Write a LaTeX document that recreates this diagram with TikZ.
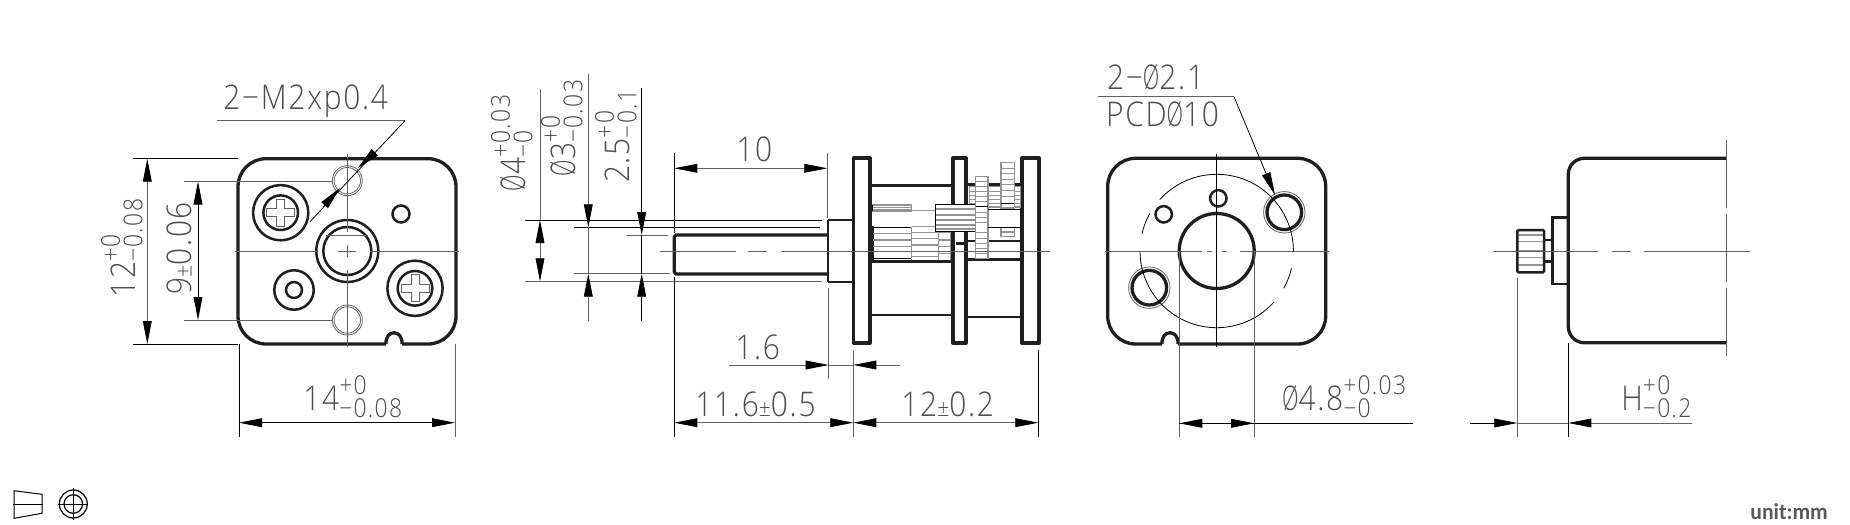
\documentclass[tikz,border=0pt]{standalone}
\usepackage{fontspec}
\usepackage{graphicx}
\usetikzlibrary{arrows.meta}
\newfontfamily\dimfont{Open Sans Light}[LetterSpace=5,FakeStretch=0.88]
\newfontfamily\unitfont{Carlito Bold}[FakeStretch=0.95]
\definecolor{ink}{gray}{0.12}
\definecolor{thin}{gray}{0.38}
\definecolor{txt}{gray}{0.30}
\newcommand{\dia}{\scalebox{.72}[1]{Ø}}
\newcommand{\pmm}{{\fontsize{12}{12}\selectfont ±}}
\newcommand{\tol}[2]{{\fontsize{13}{13}\selectfont\rlap{\raisebox{7.6pt}{#1}}\raisebox{-3.7pt}{#2}}}
\newcommand{\hatchx}[4]{\foreach \yy in {#3}{\draw[#4] (#1,\yy) -- (#2,\yy);}}
\tikzset{
  x=0.5pt,y=-0.5pt,
  outl/.style={draw=ink,line width=1.65pt,line join=round},
  midl/.style={draw=ink,line width=1.25pt},
  thinl/.style={draw=thin,line width=0.4pt},
  blackl/.style={draw=black,line width=0.4pt},
  gearl/.style={draw=gray!85,line width=0.75pt},
  hairl/.style={draw=black,line width=0.5pt},
  dimtip/.tip={Triangle[length=11.5pt,width=4.4pt,color=black]},
  lab/.style={inner sep=0pt,anchor=base west,text=txt,font=\fontsize{17}{17}\selectfont\dimfont},
}
\begin{document}
\begin{tikzpicture}
\useasboundingbox (0,0) rectangle (1850,524);
\fill[white] (0,0) rectangle (1850,524);

% ===== VIEW 1 =====
\draw[outl,rounded corners=14pt] (347,158.7) -- (456,158.7) -- (456,344) -- (402,344);
\draw[outl] (402,344) .. controls (403,329) and (385,329) .. (386,344);
\draw[outl,rounded corners=14pt] (386,344) -- (238,344) -- (238,158.7) -- (347,158.7);
% holes
\draw[thinl] (347.3,180.7) circle[radius=15] (347.3,180.7) circle[radius=13.2];
\draw[thinl] (347.3,320) circle[radius=15] (347.3,320) circle[radius=13.2];
% screws
\foreach \cx/\cy in {280.7/212.7,415/288.3}{
  \draw[midl] (\cx,\cy) circle[radius=27.6];
  \draw[midl] (\cx,\cy) circle[radius=17.3];
  \draw[thinl] (\cx-4,\cy-13.5) -- (\cx+4,\cy-13.5) -- (\cx+4,\cy-4) -- (\cx+14,\cy-4) -- (\cx+14,\cy+4) -- (\cx+4,\cy+4) -- (\cx+4,\cy+13.5) -- (\cx-4,\cy+13.5) -- (\cx-4,\cy+4) -- (\cx-14,\cy+4) -- (\cx-14,\cy-4) -- (\cx-4,\cy-4) -- cycle;
}
% boss
\draw[midl] (347.3,251) circle[radius=31];
\draw[midl] (347.3,251) circle[radius=24];
\draw[thinl] (326,235) -- (368,235);
\draw[midl] (401,214) circle[radius=8.5];
\draw[midl] (294,290) circle[radius=19.7];
\draw[midl] (294,290) circle[radius=8];
% centre lines
\draw[thinl] (235,251) -- (317,251) (338,251) -- (356,251) (370,251) -- (459,251);
\draw[thinl] (347.3,154) -- (347.3,232) (347.3,245) -- (347.3,257) (347.3,270) -- (347.3,347);
% dim 12
\draw[blackl] (132.7,158.7) -- (238,158.7);
\draw[blackl] (132.7,344) -- (238,344);
\draw[thinl,{dimtip}-{dimtip}] (147.3,158.7) -- (147.3,344);
\node[lab,rotate=90] (t12) at (135,298) {12\tol{+0}{−0.08}};
% dim 9
\draw[thinl] (184,181.5) -- (332,181.5);
\draw[thinl] (184,320) -- (332,320);
\draw[blackl,{dimtip}-{dimtip}] (198,181.5) -- (198,320);
\node[lab,rotate=90] (t9) at (191.7,295) {9\pmm 0.06};
% dim 14
\draw[blackl] (239,344) -- (239,437);
\draw[thinl] (455,344) -- (455,437);
\draw[blackl,{dimtip}-{dimtip}] (239,422.7) -- (455,422.7);
\node[lab] (t14) at (303,410) {14\tol{+0}{−0.08}};
% leader
\node[lab] (tm2) at (223,110) {2−M2xp0.4};
\draw[thinl] (216.7,120.7) -- (405,120.7);
\draw[blackl] (405,120.7) -- (310,221.7);
\draw[blackl,-{dimtip}] (375,152) -- (358,168);
\draw[blackl,-{dimtip}] (323,207) -- (340,188);

% ===== VIEW 2 =====
\draw[outl] (828,235) -- (676,235) -- (674.3,237) -- (674.3,272) -- (676,274) -- (828,274);
\draw[midl] (828,220) -- (853,220) (828,282) -- (853,282) (828,220) -- (828,282);
\draw[outl] (853.3,158) rectangle (870,343);
\draw[outl] (953,158) rectangle (966,343);
\draw[outl] (1022,158) rectangle (1039,343);
\draw[midl] (870,185.7) -- (953,185.7) (870,261.7) -- (953,261.7) (870,315) -- (953,315);
\draw[midl] (966,184.3) -- (1022,184.3) (966,241) -- (1022,241) (966,259.7) -- (1022,259.7) (966,317) -- (1022,317);
\draw[outl] (872.5,226) -- (872.5,261);
% top strip
\draw[gearl] (872.7,205) rectangle (911.7,211);
\hatchx{872.7}{911.7}{207.5,209}{gearl,line width=0.5pt}
\draw[hairl] (872.7,205) -- (872.7,211);
\draw[gearl] (911.7,210.7) -- (935,210.7);
% block A
\hatchx{873}{911.7}{233.3,240,246.7,251.7}{gearl}
\hatchx{873}{911.7}{227.3,258.3}{hairl}
\draw[gearl] (911.7,227) -- (911.7,260);
% block B
\hatchx{911.7}{938.3}{232.3,238.3,245,251.7,256.7}{gearl}
\hatchx{911.7}{938.3}{226.7}{gearl}
\draw[gearl] (938.3,232) -- (938.3,260);
% block C
\hatchx{938.3}{950.7}{232,240,246.7,253.3}{gearl}
\draw[gearl] (950.7,232) -- (950.7,260);
% block H, G, I
\foreach \xa/\xb in {969.3/975.7,988/1001,1014.3/1020.7}{
  \draw[gearl] (\xa,186.7) rectangle (\xb,207);
  \hatchx{\xa}{\xb}{191,195,199,203}{gearl,line width=0.5pt}
}
% box D
\fill[white] (935.3,204.3) rectangle (975.7,231.7);
\hatchx{935.3}{975.7}{209,215,220,225,229}{gearl}
\draw[hairl] (935.3,231.7) -- (935.3,204.3) -- (975.7,204.3) (935.3,231.7) -- (975.7,231.7);
\draw[midl] (956,243.3) -- (966,243.3);
% gear E
\fill[white] (975.7,176.7) rectangle (988,258.3);
\draw[gearl] (975.7,176.7) rectangle (988,258.3);
\hatchx{975.7}{988}{181,186,191,196,201,212,217,222,232,238,243,248,253}{gearl,line width=0.5pt}
\hatchx{975.7}{988}{206.7}{hairl}
% gear F
\fill[white] (1001,162.7) rectangle (1014.3,208);
\draw[gearl] (1001,162.7) rectangle (1014.3,208);
\hatchx{1001}{1014.3}{168,173,179,184,190,196,203}{gearl,line width=0.5pt}
\hatchx{1001}{1014.3}{203.5}{hairl}
\fill[white] (1001,227.5) rectangle (1014.3,236.7);
\draw[gearl] (1001,227.5) rectangle (1014.3,236.7);
\hatchx{1001}{1014.3}{232}{gearl}
\hatchx{988}{1021}{209}{hairl}
\hatchx{988}{1022}{227.3}{hairl}
% centre line
\draw[thinl] (660,251.7) -- (736,251.7) (748,251.7) -- (767,251.7) (781,251.7) -- (1050,251.7);
% dim phi4
\draw[blackl] (525,220) -- (821.7,220);
\draw[thinl] (525,281.3) -- (821.7,281.3);
\draw[thinl] (540,89) -- (540,220);
\draw[thinl,{dimtip}-{dimtip}] (540,220) -- (540,281.3);
\node[lab,rotate=90] (tp4) at (525,191.7) {\dia 4\tol{+0.03}{−0}};
% dim phi3
\draw[blackl] (574,227.3) -- (820,227.3);
\draw[thinl] (574,273.7) -- (670,273.7);
\draw[thinl] (588.3,227.3) -- (588.3,273.7);
\draw[thinl,-{dimtip}] (588.3,74) -- (588.3,227.3);
\draw[thinl,-{dimtip}] (588.3,320.7) -- (588.3,273.7);
\node[lab,rotate=90] (tp3) at (575,176.7) {\dia 3\tol{+0}{−0.03}};
% dim 2.5
\draw[thinl] (627,235) -- (668,235);
\draw[blackl] (641.7,235) -- (641.7,273.7);
\draw[blackl,-{dimtip}] (641.7,88) -- (641.7,235);
\draw[blackl,-{dimtip}] (641.7,320.7) -- (641.7,273.7);
\node[lab,rotate=90] (t25) at (629,183.3) {2.5\tol{+0}{−0.1}};
% dim 10
\draw[blackl] (674.3,153) -- (674.3,233);
\draw[blackl] (674.3,277) -- (674.3,436.7);
\draw[thinl] (827.3,153) -- (827.3,218);
\draw[thinl,{dimtip}-{dimtip}] (674.3,168.3) -- (827.3,168.3);
\node[lab] (t10) at (736,162) {10};
% dim 1.6
\draw[thinl] (828.7,288) -- (828.7,379);
\draw[thinl] (853.3,350.7) -- (853.3,436.7);
\draw[thinl,-{dimtip}] (729,365) -- (828.7,365);
\draw[thinl] (828.7,365) -- (853.3,365);
\draw[thinl,-{dimtip}] (900,365) -- (853.3,365);
\node[lab] (t16) at (735,359) {1.6};
% dim 11.6
\draw[thinl,{dimtip}-{dimtip}] (674.3,422.7) -- (853.3,422.7);
\node[lab] (t116) at (695,416.7) {11.6\pmm 0.5};
% dim 12
\draw[blackl] (1038.3,350) -- (1038.3,436.7);
\draw[thinl,{dimtip}-{dimtip}] (853.3,422.7) -- (1038.3,422.7);
\node[lab] (t122) at (901,416.7) {12\pmm 0.2};

% ===== VIEW 3 =====
\draw[outl,rounded corners=14pt] (1216,158.3) -- (1325.7,158.3) -- (1325.7,344) -- (1178,344);
\draw[outl] (1178,344) .. controls (1179,329) and (1161,329) .. (1162,344);
\draw[outl,rounded corners=14pt] (1162,344) -- (1107.7,344) -- (1107.7,158.3) -- (1216,158.3);
\draw[outl] (1216.7,251) circle[radius=37.5];
\draw[midl] (1218.3,198.3) circle[radius=8.2];
\draw[midl] (1163.7,214.3) circle[radius=8.2];
\foreach \cx/\cy in {1284.3/212.3,1149.3/287.7}{
  \draw[outl] (\cx,\cy) circle[radius=17.3];
  \draw[thinl] (\cx,\cy) circle[radius=20.7];
}
\foreach \aa/\ab in {0/138,151/167,180/318.5,331/347}{
  \draw[thinl,black] plot[domain=\aa:\ab,samples=50,smooth] ({1216.7+76.7*cos(\x)},{251-76.7*sin(\x)});
}
\draw[thinl] (1105,251) -- (1202,251) (1207,251) -- (1212,251) (1222,251) -- (1227,251) (1240,251) -- (1328.7,251);
\draw[blackl] (1216.7,154) -- (1216.7,347);
\draw[thinl] (1179.3,251) -- (1179.3,437);
\draw[thinl] (1254,251) -- (1254,437);
\draw[blackl,-{dimtip}] (1229.3,423.3) -- (1254,423.3);
\draw[blackl,-{dimtip}] (1203,423.3) -- (1179.3,423.3);
\draw[blackl] (1179.3,423.3) -- (1412.7,423.3);
\node[lab] (tp48) at (1281.7,410) {\dia 4.8\tol{+0.03}{−0}};
\node[lab] (tp21) at (1106.7,90) {2−\dia 2.1};
\node[lab] (tpcd) at (1105.7,126.7) {PCD\dia 10};
\draw[thinl] (1098,96.7) -- (1234,96.7);
\draw[blackl,-{dimtip}] (1234,96.7) -- (1275,195);

% ===== VIEW 4 =====
\draw[outl,rounded corners=8pt] (1726,158.3) -- (1568.3,158.3) -- (1568.3,342.7) -- (1726,342.7);
\draw[midl] (1568,217.3) -- (1552.7,217.3) -- (1552.7,284) -- (1568,284);
\draw[midl] (1552.7,240) -- (1544,240) (1552.7,261.3) -- (1544,261.3);
\hatchx{1517.3}{1544}{235,241.7,251,257.3,265}{gearl}
\draw[midl,rounded corners=0.6pt] (1517.3,230) rectangle (1544,272.3);
\draw[thinl] (1493.3,251) -- (1598,251) (1612,251) -- (1631,251) (1644,251) -- (1750,251);
\draw[thinl,dash pattern=on 34pt off 3pt] (1726,140) -- (1726,361.7);
\draw[thinl] (1517.3,278) -- (1517.3,437.3);
\draw[blackl] (1568.3,342.7) -- (1568.3,437.3);
\draw[thinl] (1517.3,423) -- (1568.3,423);
\draw[blackl,-{dimtip}] (1470,423) -- (1517.3,423);
\draw[thinl,-{dimtip}] (1691.7,423) -- (1568.3,423);
\node[lab] (th) at (1621,410) {H\tol{+0}{−0.2}};

% ===== SYMBOLS =====
\draw[hairl] (14,490.7) -- (42,494.3) -- (42,513.3) -- (14,518.3) -- cycle;
\draw[hairl] (12.7,504) -- (43.3,504);
\draw[hairl,line width=.6pt] (73.3,504) circle[radius=14] (73.3,504) circle[radius=9.3];
\draw[hairl] (58.3,504) -- (88.3,504) (73.3,488) -- (73.3,520);
\node[inner sep=0pt,anchor=base west,text=black!65,font=\fontsize{11.4}{11}\selectfont\unitfont] (tunit) at (1750,519) {unit:mm};
\end{tikzpicture}
\end{document}
